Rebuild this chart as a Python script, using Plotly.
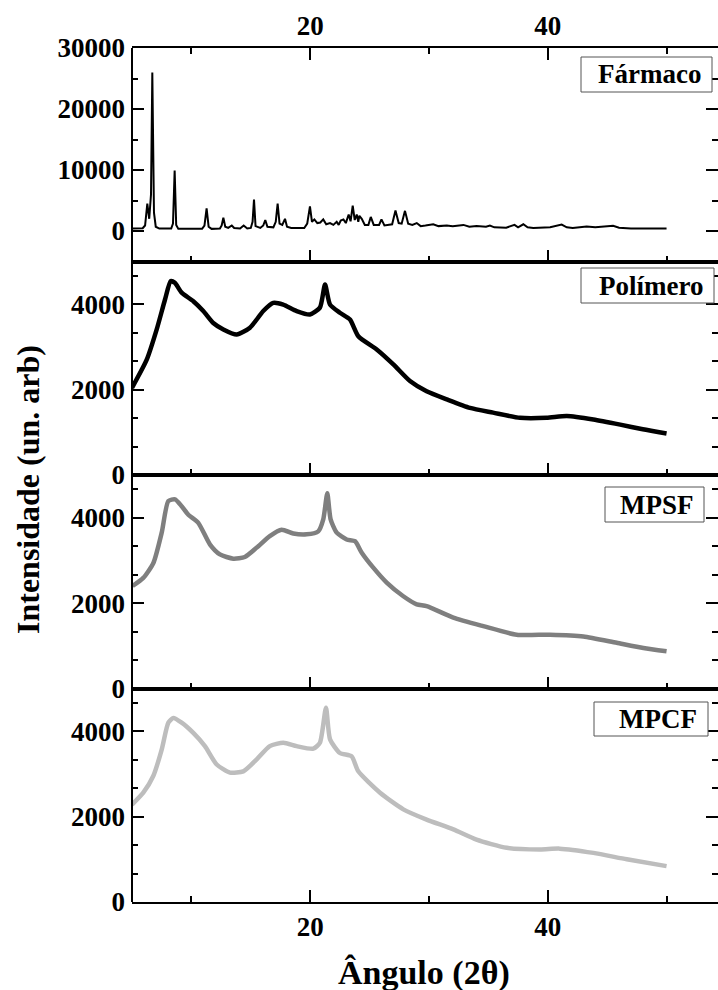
import plotly.graph_objects as go
from plotly.subplots import make_subplots

# ---------------- data ----------------
angle_farmaco = [5.0, 5.9, 6.1, 6.29, 6.45, 6.6, 6.71, 6.85, 7.0, 7.3, 8.3, 8.45, 8.59, 8.72, 8.9,
                 10.9, 11.1, 11.28, 11.45, 11.7, 12.4, 12.55, 12.69, 12.85, 13.1, 13.4, 13.6, 14.1,
                 14.4, 14.7, 15.0, 15.15, 15.27, 15.4, 15.8, 16.05, 16.22, 16.4, 16.9, 17.1, 17.26,
                 17.42, 17.65, 17.88, 18.05, 18.4, 19.5, 19.75, 19.98, 20.15, 20.35, 20.6, 20.85,
                 21.1, 21.35, 21.67, 21.95, 22.23, 22.4, 22.57, 22.8, 23.0, 23.24, 23.4, 23.58,
                 23.75, 23.92, 24.05, 24.14, 24.34, 24.6, 24.9, 25.1, 25.35, 25.8, 26.0, 26.25,
                 26.9, 27.18, 27.45, 27.7, 27.98, 28.25, 28.6, 28.97, 29.3, 29.7, 30.36, 30.8,
                 31.5, 32.0, 32.9, 33.4, 34.0, 34.8, 35.13, 35.5, 36.5, 37.2, 37.5, 37.94, 38.3,
                 38.78, 39.5, 40.2, 41.17, 41.6, 42.1, 43.27, 44.0, 45.5, 46.0, 47.0, 50.0]
int_farmaco = [400, 450, 900, 4500, 2000, 6000, 26000, 3000, 700, 400, 400, 1200, 9900, 1000, 350,
               350, 900, 3700, 700, 350, 400, 900, 2200, 700, 500, 900, 500, 400,
               900, 400, 500, 1500, 5150, 800, 500, 900, 1800, 700, 600, 1500, 4500,
               1200, 1000, 2000, 700, 500, 500, 1200, 4050, 1500, 1900, 1300, 1400,
               1900, 1100, 1300, 1000, 1500, 1000, 1700, 1900, 1300, 2700, 1600, 4170,
               1800, 2700, 1500, 2500, 2000, 1000, 1000, 2300, 1000, 1000, 1900, 900,
               1100, 3350, 1300, 1200, 3300, 1200, 1000, 1300, 800, 900, 1100, 800,
               900, 800, 1000, 700, 800, 700, 900, 600, 550, 1000, 600, 1100, 600,
               500, 600, 600, 1050, 600, 500, 750, 600, 850, 550, 400, 400]

angle_polimero = [5.0, 6.24, 7.08, 7.78, 8.26, 8.61, 9.18, 10.16, 11.0, 11.84, 12.69, 13.81, 14.93,
                  16.05, 16.89, 17.73, 18.86, 19.98, 20.82, 21.25, 21.67, 22.5, 23.35, 24.05,
                  25.6, 27.0, 28.4, 29.8, 31.5, 33.45, 35.4, 37.66, 39.9, 41.6, 43.84, 46.1,
                  48.0, 50.0]
int_polimero = [2040, 2700, 3410, 4110, 4540, 4500, 4270, 4070, 3840, 3560, 3410, 3290, 3450,
                3840, 4030, 3990, 3840, 3760, 3920, 4460, 3990, 3800, 3640, 3250,
                2940, 2590, 2200, 1960, 1770, 1570, 1460, 1340, 1340, 1380, 1300, 1180,
                1070, 970]

angle_mpsf = [5.05, 5.95, 6.8, 7.5, 8.06, 8.62, 9.18, 9.74, 10.58, 11.57, 12.4, 13.53, 14.5,
              15.5, 16.6, 17.6, 18.58, 19.7, 20.68, 21.1, 21.44, 21.72, 22.23, 23.07, 23.77,
              24.34, 25.31, 26.44, 27.84, 28.97, 29.8, 32.05, 34.57, 37.38, 40.19, 43.0,
              45.8, 48.05, 50.0]
int_mpsf = [2400, 2590, 2940, 3650, 4390, 4430, 4270, 4070, 3880, 3370, 3140, 3040, 3080,
            3300, 3570, 3720, 3630, 3610, 3680, 3960, 4570, 3960, 3650, 3490, 3450,
            3180, 2830, 2480, 2160, 1970, 1930, 1660, 1460, 1260, 1260, 1220,
            1070, 950, 870]

angle_mpcf = [5.0, 5.95, 6.79, 7.5, 8.06, 8.48, 9.18, 10.16, 11.14, 12.13, 13.25, 14.37, 15.5,
              16.6, 17.74, 18.86, 20.26, 20.82, 21.33, 21.67, 22.5, 23.49, 24.05, 25.88,
              27.84, 29.8, 32.05, 34.0, 36.54, 39.35, 41.0, 43.84, 46.65, 50.0]
int_mpcf = [2280, 2560, 2950, 3570, 4200, 4310, 4200, 3960, 3650, 3220, 3030, 3060, 3340,
            3650, 3730, 3650, 3590, 3730, 4550, 3810, 3490, 3410, 3060, 2560,
            2170, 1930, 1700, 1460, 1270, 1230, 1250, 1150, 1000, 840]

panel_labels = ["Fármaco", "Polímero", "MPSF", "MPCF"]
x_ticks_major = 20
x_ticks_minor = 10

# ---------------- figure ----------------
FONT = "Liberation Serif"
fig = make_subplots(rows=4, cols=1, vertical_spacing=0)

series = [
    (angle_farmaco, int_farmaco, "black", 2, "linear"),
    (angle_polimero, int_polimero, "black", 4.5, "spline"),
    (angle_mpsf, int_mpsf, "#7f7f7f", 4.5, "spline"),
    (angle_mpcf, int_mpcf, "#bdbdbd", 4.5, "spline"),
]
for i, (xs, ys, col, w, shp) in enumerate(series):
    fig.add_trace(go.Scatter(x=xs, y=ys, mode="lines",
                             line=dict(color=col, width=w, shape=shp, smoothing=0.6),
                             showlegend=False, name=panel_labels[i]), row=i + 1, col=1)

tickfont = dict(family=FONT, size=27, color="black", weight="bold")
xcommon = dict(range=[5, 54.33], showline=True, linecolor="black", linewidth=2,
               ticks="inside", ticklen=12, tickwidth=2, tickcolor="black",
               tick0=0, dtick=x_ticks_major,
               minor=dict(ticks="inside", ticklen=6, tickwidth=2, tickcolor="black",
                          tick0=0, dtick=x_ticks_minor, showgrid=False),
               showgrid=False, zeroline=False, tickfont=tickfont)
for r in range(1, 5):
    fig.update_xaxes(**xcommon, row=r, col=1)
fig.update_xaxes(side="top", mirror="ticks", showticklabels=True, row=1, col=1)
fig.update_xaxes(mirror=True, showticklabels=False, row=2, col=1)
fig.update_xaxes(mirror=True, showticklabels=False, row=3, col=1)
fig.update_xaxes(mirror=True, showticklabels=True, row=4, col=1)

ycommon = dict(showline=False, mirror="ticks",
               ticks="inside", ticklen=12, tickwidth=2, tickcolor="black",
               showgrid=False, zeroline=False, tickfont=tickfont, ticklabelstandoff=6,
               tickformat="d")
fig.update_yaxes(**ycommon, range=[-5000, 30000], tick0=0, dtick=10000,
                 minor=dict(ticks="inside", ticklen=6, tickwidth=2, tickcolor="black",
                            tick0=0, dtick=5000, showgrid=False), row=1, col=1)
for r in range(2, 5):
    fig.update_yaxes(**ycommon, range=[0, 5000], tick0=0, dtick=2000,
                     minor=dict(ticks="inside", ticklen=6, tickwidth=2, tickcolor="black",
                                tick0=0, dtick=2000 / 3, showgrid=False), row=r, col=1)

# left spine drawn as a layout line (right spine falls outside the picture)
fig.add_shape(type="line", xref="paper", yref="paper", x0=0, x1=0, y0=0, y1=1,
              line=dict(color="black", width=2))

# label boxes (paper coords)
L, R_, T, B = 132, 718, 48, 902
def px2x(p):
    return (p - L) / (R_ - L)
def py2y(p):
    return (B - p) / (B - T)

# (left, right, top, bottom, text right edge) in pixels
boxes = [(581, 712, 57, 92, 703), (581, 714, 268, 303, 705),
         (605, 704, 487, 522, 696), (594, 708, 702, 736, 699)]
for lab, (bx0, bx1, by0, by1, tr) in zip(panel_labels, boxes):
    fig.add_shape(type="rect", xref="paper", yref="paper",
                  x0=px2x(bx0), x1=px2x(bx1), y0=py2y(by1), y1=py2y(by0),
                  line=dict(color="#555", width=1), fillcolor="white", layer="above")
    fig.add_annotation(text=lab, xref="paper", yref="paper", x=px2x(tr),
                       y=py2y((by0 + by1) / 2), xanchor="right", yanchor="middle",
                       showarrow=False,
                       font=dict(family=FONT, size=27, color="black", weight="bold"))

fig.add_annotation(text="Ângulo (2θ)", xref="paper", yref="paper",
                   x=px2x(424), y=py2y(973), xanchor="center", yanchor="middle",
                   showarrow=False,
                   font=dict(family=FONT, size=34, color="black", weight="bold"))
fig.add_annotation(text="Intensidade (un. arb)", xref="paper", yref="paper",
                   x=px2x(28), y=py2y(490), xanchor="center", yanchor="middle",
                   textangle=-90, showarrow=False,
                   font=dict(family=FONT, size=32, color="black", weight="bold"))

fig.update_layout(width=718, height=990, margin=dict(l=132, r=0, t=48, b=88),
                  paper_bgcolor="white", plot_bgcolor="white", showlegend=False)

fig.write_html("out.html")
